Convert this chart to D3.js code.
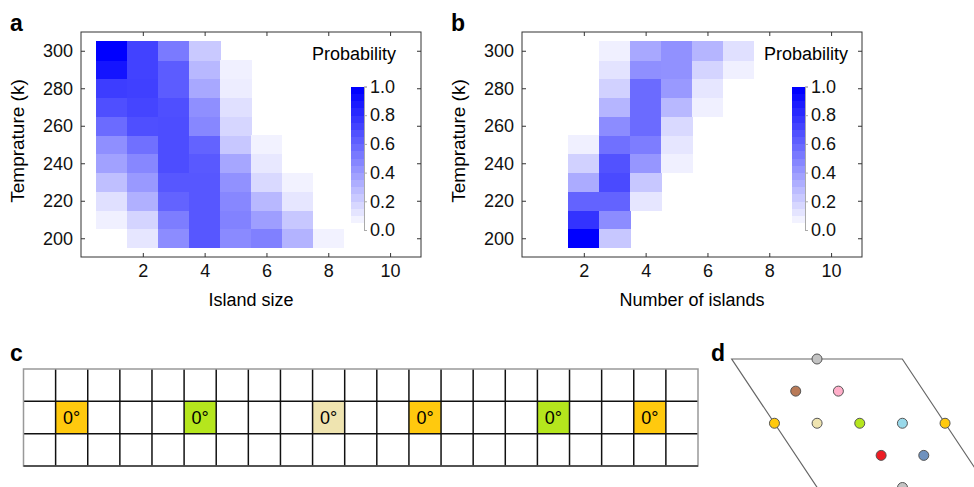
<!DOCTYPE html>
<html>
<head>
<meta charset="utf-8">
<script src="https://cdn.jsdelivr.net/npm/d3@7"></script>
<style>
  body { margin: 0; background: #fff; }
  svg { display: block; font-family: "Liberation Sans", Arial, Helvetica, sans-serif; }
  .axis text { font-size: 18px; fill: #111; }
  .axis line { stroke: #333; }
  .cbar line, .cbar path { stroke: #aaa; }
</style>
</head>
<body>
<svg width="974" height="487"></svg>
<script>
// ---- data ----
var temps = [200, 210, 220, 230, 240, 250, 260, 270, 280, 290, 300];

// panel a: probability per island size, values listed from 200 K up to 300 K
var islandSizes = [1, 2, 3, 4, 5, 6, 7, 8];
var probSize = [
  [null, 0.06, 0.12, 0.25, 0.37, 0.44, 0.58, 0.69, 0.76, 0.92, 1.00],
  [0.10, 0.17, 0.31, 0.40, 0.47, 0.56, 0.69, 0.73, 0.75, 0.74, 0.74],
  [0.45, 0.51, 0.61, 0.66, 0.70, 0.70, 0.70, 0.69, 0.64, 0.64, 0.52],
  [0.66, 0.66, 0.66, 0.66, 0.65, 0.61, 0.47, 0.44, 0.34, 0.28, 0.21],
  [0.46, 0.49, 0.47, 0.43, 0.35, 0.22, 0.16, 0.12, 0.07, 0.06, null],
  [0.50, 0.38, 0.28, 0.15, 0.09, 0.05, null, null, null, null, null],
  [0.30, 0.22, 0.10, 0.05, null, null, null, null, null, null, null],
  [0.05, null, null, null, null, null, null, null, null, null, null]
];

// panel b: probability per number of islands
var islandCounts = [2, 3, 4, 5, 6, 7];
var probCount = [
  [1.00, 0.80, 0.61, 0.33, 0.18, 0.06, null, null, null, null, null],
  [0.22, 0.45, 0.61, 0.71, 0.68, 0.56, 0.45, 0.29, 0.18, 0.11, 0.06],
  [null, null, 0.10, 0.22, 0.41, 0.51, 0.58, 0.58, 0.58, 0.44, 0.34],
  [null, null, null, null, 0.06, 0.10, 0.15, 0.28, 0.40, 0.43, 0.43],
  [null, null, null, null, null, null, null, 0.06, 0.10, 0.17, 0.29],
  [null, null, null, null, null, null, null, null, null, 0.06, 0.12]
];

var xTicks = [2, 4, 6, 8, 10];
var yTicks = [200, 220, 240, 260, 280, 300];
var cbarTicks = [0, 0.2, 0.4, 0.6, 0.8, 1.0];

// panel c: strip of cells, coloured cells sit in the middle row
var stripCols = 21, stripRows = 3;
var markedCols = [1, 5, 9, 12, 16, 19];
var markedColors = ["#ffc90e", "#b5e61d", "#efe4b0", "#ffc90e", "#b5e61d", "#ffc90e"];

// panel d: sites in fractional cell coordinates (u along top edge, v along slanted edge)
var siteU = [0.5, 0.25, 0.5, 0, 0.25, 0.5, 0.75, 1, 0.5, 0.75, 0.5];
var siteV = [0, 0.25, 0.25, 0.5, 0.5, 0.5, 0.5, 0.5, 0.75, 0.75, 1];
var siteColors = ["#c3c3c3", "#b97a57", "#ffaec9", "#ffc90e", "#efe4b0", "#b5e61d",
                  "#99d9ea", "#ffc90e", "#ed1c24", "#7092be", "#c3c3c3"];

var svg = d3.select("svg");
var color = d3.interpolateRgb("#ffffff", "#0000ff");

function heatPanel(left, cols, values, xLabel, probRight, letter) {
  var x = d3.scaleLinear().domain([0, 11]).range([left, left + 340]),
      y = d3.scaleLinear().domain([190, 310]).range([257, 32]);

  var g = svg.append("g");

  cols.forEach(function(c, i) {
    g.selectAll(null)
      .data(values[i].map(function(v, j) { return {t: temps[j], v: v}; })
        .filter(function(d) { return d.v !== null; }))
      .enter().append("rect")
        .attr("x", x(c - 0.5))
        .attr("width", x(c + 0.5) - x(c - 0.5) + 0.5)
        .attr("y", function(d) { return y(d.t + 5); })
        .attr("height", y(195) - y(205) + 0.5)
        .attr("fill", function(d) { return color(d.v); })
        .attr("shape-rendering", "crispEdges");
  });

  g.append("g")
      .attr("class", "axis")
      .attr("transform", "translate(0,257)")
      .call(d3.axisBottom(x).tickValues(xTicks).tickSize(-4).tickPadding(7))
      .call(function(a) { a.select(".domain").remove(); });
  g.append("g")
      .attr("class", "axis")
      .attr("transform", "translate(0,32)")
      .call(d3.axisTop(x).tickValues(xTicks).tickSize(-4).tickFormat(""))
      .call(function(a) { a.select(".domain").remove(); });
  g.append("g")
      .attr("class", "axis")
      .attr("transform", "translate(" + left + ",0)")
      .call(d3.axisLeft(y).tickValues(yTicks).tickSize(-4).tickPadding(8))
      .call(function(a) { a.select(".domain").remove(); });
  g.append("g")
      .attr("class", "axis")
      .attr("transform", "translate(" + (left + 340) + ",0)")
      .call(d3.axisRight(y).tickValues(yTicks).tickSize(-4).tickFormat(""))
      .call(function(a) { a.select(".domain").remove(); });

  g.append("rect")
      .attr("x", left).attr("y", 32)
      .attr("width", 340).attr("height", 225)
      .attr("fill", "none").attr("stroke", "#333");

  g.append("text")
      .attr("x", left + 170).attr("y", 306)
      .attr("text-anchor", "middle")
      .style("font-size", "18px")
      .text(xLabel);

  g.append("text")
      .attr("transform", "translate(" + (left - 57) + ",141) rotate(-90)")
      .attr("text-anchor", "middle")
      .style("font-size", "19px")
      .text("Temprature (k)");

  g.append("text")
      .attr("x", probRight).attr("y", 60)
      .attr("text-anchor", "end")
      .style("font-size", "18px")
      .text("Probability");

  // colour bar
  var cy = d3.scaleLinear().domain([0, 1]).range([230, 86.5]);
  var steps = d3.range(20);
  g.selectAll(null)
    .data(steps)
    .enter().append("rect")
      .attr("x", left + 270)
      .attr("width", 13)
      .attr("y", function(s) { return cy((s + 1) / 20); })
      .attr("height", cy(0) - cy(0.05) + 0.3)
      .attr("fill", function(s) { return color(s / 19); })
      .attr("shape-rendering", "crispEdges");
  g.append("g")
      .attr("class", "axis cbar")
      .attr("transform", "translate(" + (left + 283) + ",0)")
      .call(d3.axisRight(cy).tickValues(cbarTicks).tickSize(3).tickPadding(3).tickFormat(d3.format(".1f")));

  svg.append("text")
      .attr("x", left - 71).attr("y", 31)
      .style("font-size", "23px").style("font-weight", "bold")
      .text(letter);
}

heatPanel(81, islandSizes, probSize, "Island size", 396, "a");
heatPanel(522, islandCounts, probCount, "Number of islands", 848, "b");

// ---- panel c ----
var cx = d3.scaleBand().domain(d3.range(stripCols)).range([23.5, 698]),
    cyb = d3.scaleBand().domain(d3.range(stripRows)).range([369, 466]);

var gc = svg.append("g");
gc.selectAll(".mark")
  .data(markedCols)
  .enter().append("rect")
    .attr("class", "mark")
    .attr("x", function(d) { return cx(d); })
    .attr("y", cyb(1))
    .attr("width", cx.bandwidth())
    .attr("height", cyb.bandwidth())
    .attr("fill", function(d, i) { return markedColors[i]; });
gc.selectAll(".vline")
  .data(d3.range(1, stripCols))
  .enter().append("line")
    .attr("x1", function(d) { return cx(d); }).attr("x2", function(d) { return cx(d); })
    .attr("y1", 369).attr("y2", 466)
    .attr("stroke", "#111").attr("stroke-width", 1.5);
gc.selectAll(".hline")
  .data([1, 2])
  .enter().append("line")
    .attr("x1", 23.5).attr("x2", 698)
    .attr("y1", function(d) { return cyb(d); }).attr("y2", function(d) { return cyb(d); })
    .attr("stroke", "#111").attr("stroke-width", 1.5);
gc.append("rect")
    .attr("x", 23.5).attr("y", 369).attr("width", 698 - 23.5).attr("height", 97)
    .attr("fill", "none").attr("stroke", "#999").attr("stroke-width", 1.5);
gc.append("line")
    .attr("x1", 23.5).attr("x2", 698).attr("y1", 466).attr("y2", 466)
    .attr("stroke", "#333").attr("stroke-width", 1.5);
gc.selectAll(".deg")
  .data(markedCols)
  .enter().append("text")
    .attr("x", function(d) { return cx(d) + cx.bandwidth() / 2; })
    .attr("y", cyb(1) + cyb.bandwidth() / 2 + 6)
    .attr("text-anchor", "middle")
    .style("font-size", "18px")
    .text("0°");
svg.append("text")
    .attr("x", 10).attr("y", 361)
    .style("font-size", "23px").style("font-weight", "bold")
    .text("c");

// ---- panel d ----
var du = d3.scaleLinear().domain([0, 1]).range([731.7, 902.3]),
    dv = d3.scaleLinear().domain([0, 1]).range([359, 487.5]),
    skew = d3.scaleLinear().domain([0, 1]).range([0, 85.5]);

var gd = svg.append("g");
var corners = [[0, 0], [1, 0], [1, 1], [0, 1]];
gd.append("path")
    .attr("d", d3.line()
      .x(function(p) { return du(p[0]) + skew(p[1]); })
      .y(function(p) { return dv(p[1]); })(corners) + "Z")
    .attr("fill", "none").attr("stroke", "#666").attr("stroke-width", 1.2);
gd.selectAll("circle")
  .data(siteU)
  .enter().append("circle")
    .attr("cx", function(u, i) { return du(u) + skew(siteV[i]); })
    .attr("cy", function(u, i) { return dv(siteV[i]); })
    .attr("r", 5)
    .attr("fill", function(u, i) { return siteColors[i]; })
    .attr("stroke", "#555").attr("stroke-width", 1);
svg.append("text")
    .attr("x", 711).attr("y", 361)
    .style("font-size", "23px").style("font-weight", "bold")
    .text("d");
</script>
</body>
</html>
